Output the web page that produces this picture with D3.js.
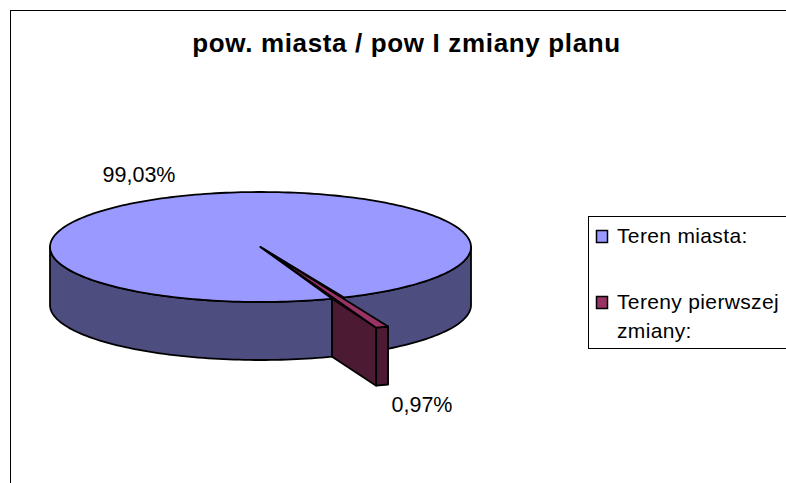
<!DOCTYPE html>
<html>
<head>
<meta charset="utf-8">
<script src="https://d3js.org/d3.v7.min.js"></script>
<style>
  html, body { margin: 0; padding: 0; background: #fff; overflow: hidden; }
  text { font-family: "Liberation Sans", Arial, sans-serif; fill: #000; }
</style>
</head>
<body>
<div id="my_dataviz"></div>
<script>
// values
var chartTitle = "pow. miasta / pow I zmiany planu";
var categories = ["Teren miasta:", "Tereny pierwszej zmiany:"];
var shares = [99.03, 0.97];
var shareLabels = ["99,03%", "0,97%"];
var topColors = ["#9999ff", "#993366"];
var sideColors = ["#4d4d80", "#4d1a33"];

var width = 786, height = 483;

var svg = d3.select("#my_dataviz")
    .append("svg")
    .attr("width", width)
    .attr("height", height)
    .style("display", "block");

// Chart frame, runs off the right and bottom of the picture
svg.append("rect")
    .attr("x", 10.5).attr("y", 10.5)
    .attr("width", width + 20).attr("height", height + 20)
    .attr("fill", "#fff")
    .attr("stroke", "#000");

svg.append("text")
    .attr("x", 406.5).attr("y", 52)
    .attr("text-anchor", "middle")
    .style("font-size", "26px")
    .style("font-weight", "bold")
    .style("letter-spacing", "0.65px")
    .text(chartTitle);

// Unit circle -> flattened disc
var x = d3.scaleLinear().domain([-1, 1]).range([50, 471]);
var y = d3.scaleLinear().domain([-1, 1]).range([192, 302]);
var depth = 58;

// 160.1deg puts the small slice at the front, just right of bottom
var firstAngle = 160.1 * Math.PI / 180;
var slices = d3.pie().sort(null)
    .startAngle(firstAngle)
    .endAngle(firstAngle + 2 * Math.PI)(shares);

function rimX(a) { return x(Math.sin(a)); }
function rimY(a) { return y(-Math.cos(a)); }

function rimPoints(a0, a1) {
    var n = Math.ceil(Math.abs(a1 - a0) * 40);
    return d3.range(n + 1).map(function(i) {
        var a = a0 + (a1 - a0) * i / n;
        return [rimX(a), rimY(a)];
    });
}

var line = d3.line();
var big = slices[0], small = slices[1];

function shape(points, fill) {
    svg.append("path")
        .attr("d", line(points) + "Z")
        .attr("fill", fill)
        .attr("stroke", "#000")
        .attr("stroke-width", 1.8)
        .attr("stroke-linejoin", "round");
}

function down(p) { return [p[0], p[1] + depth]; }

// Side wall of the big slice: the visible lower half of the rim
var wallRight = Math.PI / 2, wallLeft = 3 * Math.PI / 2;
var frontRight = rimPoints(wallRight, small.startAngle - 2 * Math.PI);
var frontLeft = rimPoints(big.startAngle, wallLeft);
[frontRight, frontLeft].forEach(function(top) {
    shape(top.concat(top.map(down).reverse()), sideColors[0]);
});

// Top of the big slice
var centre = [x(0), y(0)];
shape([centre].concat(rimPoints(big.startAngle, big.endAngle)), topColors[0]);

// The small slice pulled out of the disc, tip stays at the centre
var pull = [44, 29];
var outerA = [rimX(small.endAngle) + pull[0], rimY(small.endAngle) + pull[1]];
var outerB = [rimX(small.startAngle) + pull[0], rimY(small.startAngle) + pull[1]];
var cutTop = [rimX(small.endAngle), rimY(small.endAngle)];

shape([cutTop, outerA, down(outerA), down(cutTop)], sideColors[1]);
shape([outerA, outerB, down(outerB), down(outerA)], sideColors[1]);
shape([centre, outerB, outerA], topColors[1]);

// Percent labels
var labelPos = [[139, 181.5], [422, 411.5]];
svg.selectAll(".share")
    .data(shareLabels)
    .enter()
    .append("text")
    .attr("class", "share")
    .attr("x", function(d, i) { return labelPos[i][0]; })
    .attr("y", function(d, i) { return labelPos[i][1]; })
    .attr("text-anchor", "middle")
    .style("font-size", "21.5px")
    .text(function(d) { return d; });

// Legend, clipped by the picture edge on the right
svg.append("rect")
    .attr("x", 588.5).attr("y", 216.5)
    .attr("width", 240).attr("height", 132)
    .attr("fill", "#fff")
    .attr("stroke", "#000");

var swatchY = [230, 296];
var legendLines = [[categories[0]], ["Tereny pierwszej", "zmiany:"]];

categories.forEach(function(c, i) {
    svg.append("rect")
        .attr("x", 596.5).attr("y", swatchY[i] + 0.5)
        .attr("width", 11).attr("height", 12)
        .attr("fill", topColors[i])
        .attr("stroke", "#000")
        .attr("stroke-width", 1.5);

    legendLines[i].forEach(function(t, j) {
        svg.append("text")
            .attr("x", 617)
            .attr("y", swatchY[i] + 13 + j * 28.5)
            .style("font-size", "21px")
            .style("letter-spacing", "0.35px")
            .text(t);
    });
});
</script>
</body>
</html>
